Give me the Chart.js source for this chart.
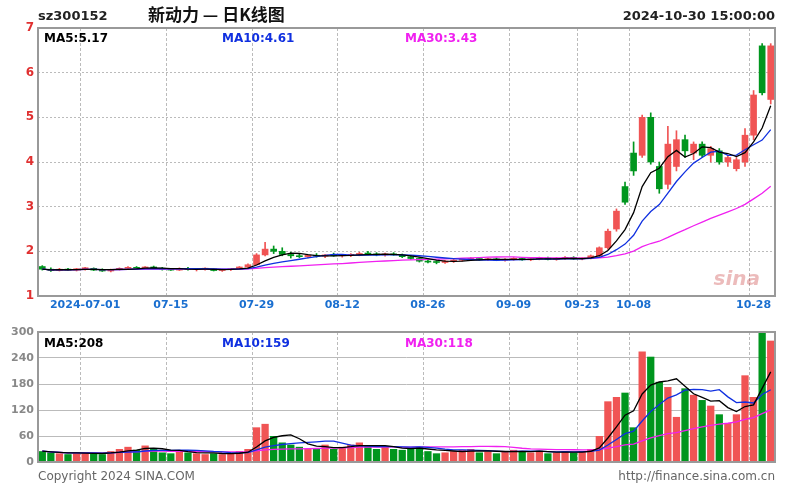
<!DOCTYPE html>
<html lang="zh">
<head>
<meta charset="utf-8" />
<title>sz300152 日K线图</title>
<script src="https://cdn.jsdelivr.net/npm/chart.js"></script>
<style>
  body { margin: 0; background: #fff; }
  .box { position: absolute; left: 0; width: 800px; }
</style>
</head>
<body>
<div class="box" style="top:0;height:318px"><canvas id="kChart"></canvas></div>
<div class="box" style="top:320px;height:180px"><canvas id="volChart"></canvas></div>
<script>
// trading days shown
const dates = [
  "06-24","06-25","06-26","06-27","06-28",
  "2024-07-01","07-02","07-03","07-04","07-05","07-08","07-09","07-10","07-11","07-12",
  "07-15","07-16","07-17","07-18","07-19","07-22","07-23","07-24","07-25","07-26",
  "07-29","07-30","07-31","08-01","08-02","08-05","08-06","08-07","08-08","08-09",
  "08-12","08-13","08-14","08-15","08-16","08-19","08-20","08-21","08-22","08-23",
  "08-26","08-27","08-28","08-29","08-30","09-02","09-03","09-04","09-05","09-06",
  "09-09","09-10","09-11","09-12","09-13","09-18","09-19","09-20",
  "09-23","09-24","09-25","09-26","09-27","09-30",
  "10-08","10-09","10-10","10-11","10-14","10-15","10-16","10-17","10-18",
  "10-21","10-22","10-23","10-24","10-25","10-28","10-29","10-30"
];
const tickDates = ["2024-07-01","07-15","07-29","08-12","08-26","09-09","09-23","10-08","10-28"];

const open = [1.66,1.60,1.57,1.60,1.58, 1.61,1.62,1.58,1.56,1.59,1.62,1.64,1.62,1.65,1.62,
  1.60,1.58,1.62,1.59,1.60,1.61,1.57,1.59,1.61,1.65, 1.70,1.92,2.05,2.00,1.93,1.90,1.88,1.91,1.89,1.92,
  1.90,1.91,1.93,1.95,1.94,1.92,1.94,1.92,1.88,1.84, 1.78,1.76,1.75,1.78,1.80,1.82,1.84,1.81,1.83,1.80,
  1.82,1.84,1.81,1.83,1.85,1.82,1.84,1.86, 1.83,1.84,1.90,2.08,2.50,3.45,
  4.20,4.15,5.00,3.90,3.50,3.90,4.50,4.20,4.40, 4.15,4.25,4.00,3.85,4.00,4.60,6.60,5.40];
const high = [1.68,1.63,1.62,1.62,1.62, 1.64,1.63,1.61,1.60,1.63,1.66,1.66,1.66,1.67,1.64,
  1.62,1.63,1.64,1.62,1.63,1.62,1.60,1.62,1.66,1.72, 1.95,2.20,2.12,2.08,1.98,1.95,1.93,1.95,1.93,1.96,
  1.93,1.95,1.98,2.00,1.97,1.96,1.97,1.94,1.91,1.86, 1.82,1.79,1.80,1.82,1.84,1.86,1.86,1.85,1.85,1.84,
  1.86,1.86,1.84,1.87,1.87,1.86,1.88,1.88, 1.86,1.92,2.10,2.50,2.95,3.55,
  4.45,5.05,5.10,4.00,4.80,4.70,4.60,4.45,4.45, 4.35,4.30,4.15,4.10,4.75,5.60,6.65,6.65];
const low = [1.58,1.55,1.56,1.57,1.56, 1.58,1.57,1.55,1.54,1.58,1.60,1.61,1.61,1.61,1.58,
  1.57,1.57,1.58,1.56,1.58,1.56,1.55,1.57,1.60,1.63, 1.69,1.90,1.95,1.90,1.85,1.86,1.85,1.87,1.86,1.89,
  1.87,1.88,1.90,1.92,1.90,1.89,1.91,1.86,1.82,1.76, 1.74,1.72,1.73,1.75,1.78,1.79,1.80,1.79,1.79,1.78,
  1.80,1.80,1.79,1.81,1.81,1.80,1.82,1.82, 1.81,1.83,1.88,2.05,2.45,3.05,
  3.70,4.10,3.95,3.30,3.40,3.80,4.10,4.05,4.10, 4.00,3.95,3.90,3.80,3.90,4.50,5.50,5.30];
const close = [1.60,1.57,1.60,1.58,1.61, 1.62,1.58,1.56,1.59,1.62,1.64,1.62,1.65,1.62,1.60,
  1.58,1.62,1.59,1.60,1.61,1.57,1.59,1.61,1.65,1.70, 1.92,2.05,2.00,1.93,1.90,1.88,1.91,1.89,1.92,1.90,
  1.91,1.93,1.95,1.94,1.92,1.94,1.92,1.88,1.84,1.78, 1.76,1.75,1.78,1.80,1.82,1.84,1.81,1.83,1.80,1.82,
  1.84,1.81,1.83,1.85,1.82,1.84,1.86,1.83, 1.84,1.90,2.08,2.45,2.90,3.10,
  3.80,5.00,4.00,3.40,4.40,4.50,4.25,4.40,4.15, 4.30,4.00,4.10,4.05,4.60,5.50,5.55,6.60];
const volume = [25,22,20,18,20, 22,20,18,25,30,35,28,38,30,22,
  20,25,22,20,18,20,18,20,25,30, 80,88,60,45,40,35,30,32,40,30,
  35,40,45,38,30,35,30,28,32,35, 25,20,22,25,28,30,22,24,20,25,
  28,24,22,26,20,22,25,22, 25,30,60,140,150,160,
  80,255,243,185,173,104,170,155,143, 130,110,90,110,200,150,300,280];

const UP = "rgb(240,84,84)", DOWN = "rgb(0,150,30)";
const colors = close.map((c, i) => (c >= open[i] ? UP : DOWN));

function ma(arr, n) {
  return arr.map((_, i) => {
    const s = arr.slice(Math.max(0, i - n + 1), i + 1);
    return s.reduce((a, b) => a + b, 0) / s.length;
  });
}

function xScale(showLabels) {
  return {
    offset: true,
    ticks: {
      display: showLabels,
      autoSkip: false,
      maxRotation: 0,
      color: "#1a6fd0",
      font: { family: "DejaVu Sans", size: 11, weight: "bold" },
      callback: function (v) { const d = dates[v]; return tickDates.includes(d) ? d : ""; },
    },
    grid: {
      color: (c) => (c.tick && tickDates.includes(dates[c.tick.value]) ? "#bbb" : "transparent"),
      tickLength: 0,
    },
    border: { display: true, color: "#999", width: 2, dash: [3, 2] },
    afterFit: (s) => { s.height = 22; },
  };
}

function lineSet(label, data, color) {
  return { type: "line", label, data, borderColor: color, borderWidth: 1.3, pointRadius: 0, tension: 0 };
}

// frame + text plugin
const frame = (texts) => ({
  id: "frame",
  afterDraw(chart) {
    const { ctx, chartArea: a } = chart;
    ctx.save();
    ctx.strokeStyle = "#999";
    ctx.lineWidth = 2;
    ctx.strokeRect(a.left, a.top, a.right - a.left, a.bottom - a.top);
    texts.forEach((t) => {
      ctx.fillStyle = t.color;
      ctx.font = t.font;
      ctx.textAlign = t.align || "left";
      ctx.fillText(t.text, t.x, t.y);
    });
    ctx.restore();
  },
});

const kChart = new Chart(document.getElementById("kChart"), {
  data: {
    labels: dates,
    datasets: [
      lineSet("MA5", ma(close, 5), "#000"),
      lineSet("MA10", ma(close, 10), "#1030e0"),
      lineSet("MA30", ma(close, 30), "#f020f0"),
      { type: "bar", data: close.map((c, i) => [open[i], c]), backgroundColor: colors, barThickness: 6, grouped: false, minBarLength: 1 },
      { type: "bar", data: close.map((c, i) => [low[i], high[i]]), backgroundColor: colors, barThickness: 1, grouped: false },
    ],
  },
  options: {
    responsive: true, maintainAspectRatio: false, animation: false,
    layout: { padding: { top: 28, right: 25, left: 0, bottom: 0 } },
    plugins: { legend: { display: false }, tooltip: { enabled: false } },
    scales: {
      x: xScale(true),
      y: {
        min: 1, max: 7,
        ticks: { stepSize: 1, color: "#e03030", font: { family: "DejaVu Sans", size: 12, weight: "bold" }, padding: 4 },
        grid: { color: "#bbb", tickLength: 0 },
        border: { dash: [2, 2], display: false },
        afterFit: (s) => { s.width = 38; },
      },
    },
  },
  plugins: [frame([
    { text: "sz300152", x: 38, y: 20, color: "#222", font: "bold 13px 'DejaVu Sans'" },
    { text: "新动力 — 日K线图", x: 148, y: 21, color: "#111", font: "bold 17px 'Noto Sans CJK SC'" },
    { text: "2024-10-30 15:00:00", x: 775, y: 20, color: "#222", font: "bold 13px 'DejaVu Sans'", align: "right" },
    { text: "MA5:5.17", x: 44, y: 42, color: "#000", font: "bold 12px 'DejaVu Sans'" },
    { text: "MA10:4.61", x: 222, y: 42, color: "#1030e0", font: "bold 12px 'DejaVu Sans'" },
    { text: "MA30:3.43", x: 405, y: 42, color: "#f020f0", font: "bold 12px 'DejaVu Sans'" },
    { text: "sina", x: 760, y: 285, color: "rgba(200,60,60,0.35)", font: "italic bold 20px 'DejaVu Sans'", align: "right" },
  ])],
});

const volChart = new Chart(document.getElementById("volChart"), {
  data: {
    labels: dates,
    datasets: [
      lineSet("MA5", ma(volume, 5), "#000"),
      lineSet("MA10", ma(volume, 10), "#1030e0"),
      lineSet("MA30", ma(volume, 30), "#f020f0"),
      { type: "bar", data: volume, backgroundColor: colors, barPercentage: 0.85, categoryPercentage: 1, grouped: false },
    ],
  },
  options: {
    responsive: true, maintainAspectRatio: false, animation: false,
    layout: { padding: { top: 12, right: 25, left: 0, bottom: 38 } },
    plugins: { legend: { display: false }, tooltip: { enabled: false } },
    scales: {
      x: Object.assign(xScale(false), { afterFit: (s) => { s.height = 0; } }),
      y: {
        min: 0, max: 300,
        ticks: { stepSize: 60, color: "#888", font: { family: "DejaVu Sans", size: 11, weight: "bold" }, padding: 4 },
        grid: { color: "#bbb", tickLength: 0 },
        border: { display: false },
        afterFit: (s) => { s.width = 38; },
      },
    },
  },
  plugins: [frame([
    { text: "MA5:208", x: 44, y: 27, color: "#000", font: "bold 12px 'DejaVu Sans'" },
    { text: "MA10:159", x: 222, y: 27, color: "#1030e0", font: "bold 12px 'DejaVu Sans'" },
    { text: "MA30:118", x: 405, y: 27, color: "#f020f0", font: "bold 12px 'DejaVu Sans'" },
    { text: "Copyright 2024 SINA.COM", x: 38, y: 160, color: "#666", font: "12px 'DejaVu Sans'" },
    { text: "http://finance.sina.com.cn", x: 775, y: 160, color: "#666", font: "12px 'DejaVu Sans'", align: "right" },
  ])],
});
</script>
</body>
</html>
